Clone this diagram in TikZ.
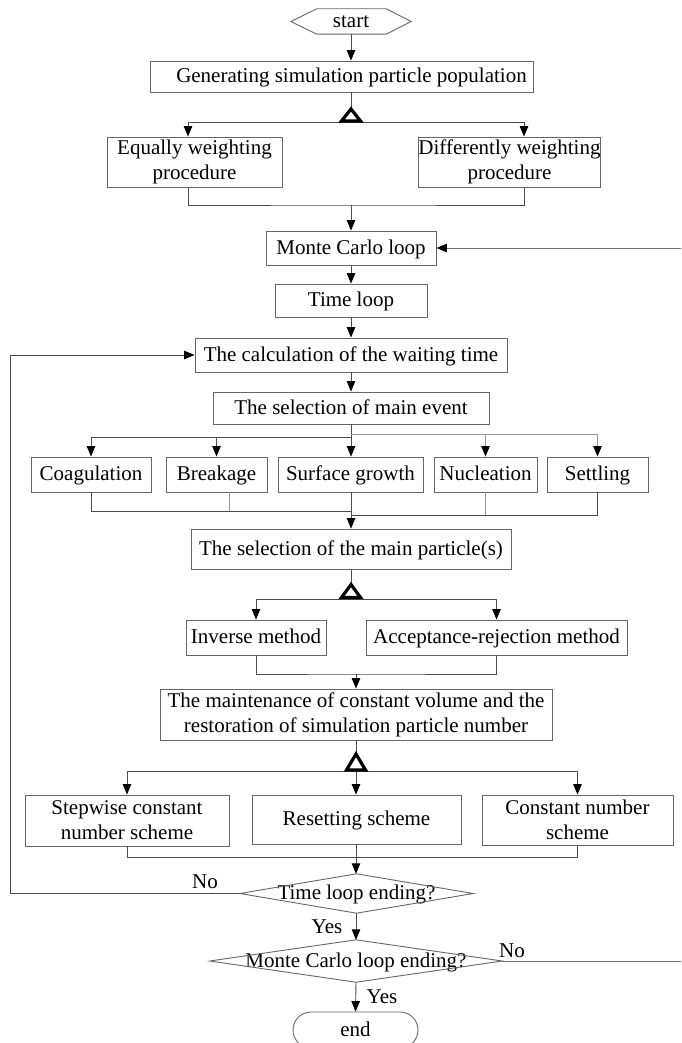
\documentclass[tikz,border=0pt]{standalone}
\usepackage{fontspec}
\setmainfont{Liberation Serif}
\usetikzlibrary{arrows.meta}
\begin{document}
\begin{tikzpicture}[x=1pt,y=-1pt,
  box/.style={draw=black!60, line width=0.9pt, inner sep=0pt, align=center, font=\fontsize{21}{25}\selectfont},
  one/.style={text height=15pt, text depth=3pt},
  txt/.style={inner sep=0pt, align=center, font=\fontsize{21}{25}\selectfont},
  ln/.style={draw=black!70, line width=0.9pt},
  lnl/.style={draw=black!40, line width=0.9pt},
  shp/.style={draw=black!60, line width=0.9pt},
  arr/.style={-{Triangle[length=10.5pt,width=8.5pt,color=black]}},
  fork/.style={draw=black, line width=3.2pt, line join=miter},
]
\useasboundingbox (0,0) rectangle (681,1043);
\clip (0,0) rectangle (681,1043);

% start
\node[txt, one, minimum width=120pt, minimum height=25pt] (start) at (351,21.5) {start};
\draw[shp] (start.west) -- ([xshift=26pt]start.north west) -- ([xshift=-25pt]start.north east) -- (start.east) -- ([xshift=-25pt]start.south east) -- ([xshift=26pt]start.south west) -- cycle;

\node[box, one, minimum width=383pt, minimum height=31pt] (gen) at (341.5,76.5) {\hspace*{20pt}Generating simulation particle population};
\node[box, minimum width=175pt, minimum height=50pt] (eq) at (194.5,162) {Equally weighting\\procedure};
\node[box, minimum width=167pt, minimum height=50pt] (diff) at (509.5,162) {Differently weighting\\procedure};
\node[box, one, minimum width=170pt, minimum height=34pt] (mc) at (351,248) {Monte Carlo loop};
\node[box, one, minimum width=152pt, minimum height=33pt] (tl) at (351,300.5) {Time loop};
\node[box, one, minimum width=312pt, minimum height=34pt] (calc) at (351,355) {The calculation of the waiting time};
\node[box, one, minimum width=276pt, minimum height=32pt] (selev) at (351,408) {The selection of main event};

\node[box, one, minimum width=120pt, minimum height=35pt] (coag) at (91,474.5) {Coagulation};
\node[box, one, minimum width=101pt, minimum height=35pt] (brk) at (216.5,474.5) {Breakage};
\node[box, one, minimum width=145pt, minimum height=35pt] (sg) at (350.5,474.5) {Surface growth};
\node[box, one, minimum width=103pt, minimum height=35pt] (nuc) at (485.5,474.5) {Nucleation};
\node[box, one, minimum width=101pt, minimum height=35pt] (set) at (597.5,474.5) {Settling};

\node[box, one, minimum width=320pt, minimum height=40pt] (selp) at (351,549) {The selection of the main particle(s)};
\node[box, one, minimum width=140pt, minimum height=35pt] (inv) at (256,637.5) {Inverse method};
\node[box, one, minimum width=261pt, minimum height=35pt] (acc) at (496.5,637.5) {Acceptance-rejection method};
\node[box, minimum width=392pt, minimum height=51pt] (maint) at (356,714.5) {The maintenance of constant volume and the\\restoration of simulation particle number};

\node[box, minimum width=204pt, minimum height=51pt] (step) at (127,820.5) {Stepwise constant\\number scheme};
\node[box, one, minimum width=209pt, minimum height=49pt] (reset) at (356.5,819.5) {Resetting scheme};
\node[box, minimum width=191pt, minimum height=50pt] (cons) at (577.5,820) {Constant number\\scheme};

\node[txt, one, minimum width=233pt, minimum height=39pt] (tle) at (356.5,893.5) {Time loop ending?};
\draw[shp] (tle.west) -- (tle.north) -- (tle.east) -- (tle.south) -- cycle;
\node[txt, one, minimum width=292pt, minimum height=42pt] (mcd) at (356,961) {Monte Carlo loop ending?};
\draw[shp] (mcd.west) -- (mcd.north) -- (mcd.east) -- (mcd.south) -- cycle;
\node[box, one, rounded corners=18pt, minimum width=125pt, minimum height=36pt] (end) at (355.5,1030) {end};

\node[txt, one] (no1) at (205,882) {No};
\node[txt, one] (yes1) at (327,927) {Yes};
\node[txt, one] (no2) at (512,951) {No};
\node[txt, one] (yes2) at (382,997) {Yes};

% fork symbols
\coordinate (f1) at (351,122.5);
\coordinate (f1t) at (351,109);
\coordinate (f2) at (351,599);
\coordinate (f2t) at (351,583);
\coordinate (f3) at (356,771.5);
\coordinate (f3t) at (356,752);

% connectors
\draw[ln, arr] (start.south) -- (gen.north -| start.south);
\draw[ln] (gen.south -| f1) -- (f1t);
\draw[ln, arr] (f1) -| ([xshift=-6.5pt]eq.north);
\draw[ln, arr] (f1) -| ([xshift=14.5pt]diff.north);
\draw[fork] (f1) ++(-9.5,-1.5) -- ++(19,0) -- ++(-9.5,-12) -- cycle;

\coordinate (jn1) at (351,205);
\draw[ln] ([xshift=-6.5pt]eq.south) |- (jn1) -| ([xshift=14.5pt]diff.south);
\draw[ln, arr] (jn1) -- (mc.north);
\draw[ln, arr] (mc.south) -- (tl.north);
\draw[ln, arr] (tl.south) -- (calc.north);
\draw[ln, arr] (calc.south) -- (selev.north);

\coordinate (ef) at (351,437);
\coordinate (ef2) at (351,434);
\draw[ln] (selev.south) -- (ef);
\draw[ln, arr] (ef) -| (coag.north);
\draw[ln, arr] (ef) -| (brk.north);
\draw[ln, arr] (ef) -- (sg.north -| ef);
\draw[lnl, arr] (ef2) -| (nuc.north);
\draw[lnl, arr] (ef2) -| (set.north);

\coordinate (ej) at (351,511);
\coordinate (ej2) at (351,515);
\draw[ln] (coag.south) |- (ej);
\draw[lnl] ([xshift=12.5pt]brk.south) -- ([xshift=12.5pt]brk.south |- ej);
\draw[lnl] (nuc.south) -- (nuc.south |- ej2);
\draw[ln] (set.south) |- (ej2);
\draw[ln, arr] (sg.south -| ej) -- (selp.north -| ej);

\draw[ln] (selp.south -| f2) -- (f2t);
\draw[ln, arr] (f2) -| (inv.north);
\draw[ln, arr] (f2) -| (acc.north);
\draw[fork] (f2) ++(-9.5,-1.5) -- ++(19,0) -- ++(-9.5,-13) -- cycle;

\coordinate (j2) at (356,674);
\draw[ln] (inv.south) |- (j2) -| (acc.south);
\draw[ln, arr] (j2) -- (maint.north);

\draw[ln] (maint.south) -- (f3t);
\draw[ln, arr] (f3) -| (step.north);
\draw[ln, arr] (f3) -- (reset.north -| f3);
\draw[ln, arr] (f3) -| (cons.north);
\draw[fork] (f3) ++(-9.5,-1.5) -- ++(19,0) -- ++(-9.5,-16) -- cycle;

\coordinate (j3) at (356,857);
\draw[ln] (step.south) |- (j3) -| (cons.south);
\draw[ln] (reset.south -| j3) -- (j3);
\draw[ln, arr] (j3) -- (tle.north -| j3);

\draw[ln, arr] (tle.west) -- (10,893.5) |- (calc.west);
\draw[ln, arr] (tle.south -| mcd.north) -- (mcd.north);
\draw[draw=black!55, line width=0.9pt, arr] (mcd.east) -- (700,961) |- (mc.east);
\draw[ln, arr] (mcd.south) -- (end.north);
\end{tikzpicture}
\end{document}
